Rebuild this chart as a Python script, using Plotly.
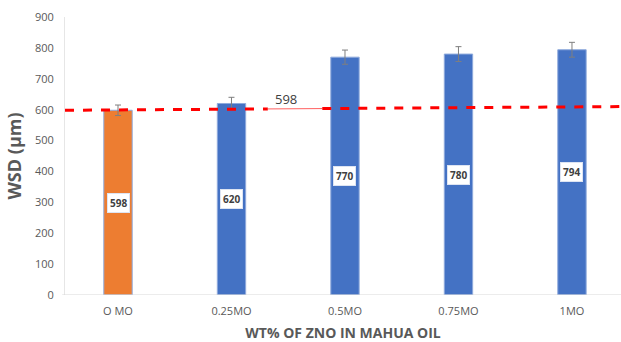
import plotly.graph_objects as go

categories = ["O MO", "0.25MO", "0.5MO", "0.75MO", "1MO"]
wsd = [598, 620, 770, 780, 794]
wsd_err = [17, 20, 23, 24, 24]
bar_colors = ["#ED7D31", "#4472C4", "#4472C4", "#4472C4", "#4472C4"]
ref_value = 598
ref_line_y = [598, 610]
y_ticks = [0, 100, 200, 300, 400, 500, 600, 700, 800, 900]

FONT = "Open Sans"
GREY = "#595959"

fig = go.Figure()
xs = list(range(len(categories)))
fig.add_trace(go.Bar(
    x=xs, y=wsd, width=0.25,
    marker=dict(color=bar_colors, line=dict(color="#8FAADC", width=1)),
    error_y=dict(type="data", array=wsd_err, color="#7F7F7F", thickness=1, width=3),
    showlegend=False, hoverinfo="skip",
))

# data labels
for i, v in enumerate(wsd):
    fig.add_annotation(x=i, y=v / 2, text=f"<b>{v}</b>", showarrow=False,
                       font=dict(family=FONT, size=10, color="#404040"),
                       bgcolor="white", bordercolor="#DDE4F2", borderwidth=1, borderpad=2)

x0, x1 = -0.467, 4.432
xl, xr = 1.32, 1.8
def yat(x):
    return ref_line_y[0] + (ref_line_y[1] - ref_line_y[0]) * (x - x0) / (x1 - x0)

fig.add_shape(type="line", x0=x0, x1=xl, y0=yat(x0), y1=yat(xl),
              line=dict(color="#FF0000", width=3, dash="dash"))
fig.add_shape(type="line", x0=xl, x1=xr, y0=yat(xl), y1=yat(xr),
              line=dict(color="#FF6060", width=1))
fig.add_shape(type="line", x0=xr, x1=x1, y0=yat(xr), y1=yat(x1),
              line=dict(color="#FF0000", width=3, dash="dash"))
fig.add_annotation(x=1.48, y=yat(1.48), yshift=10, text=str(ref_value), showarrow=False,
                   font=dict(family=FONT, size=13, color="#404040"))

fig.update_layout(
    width=621, height=342,
    margin=dict(l=65, r=0, t=17, b=47),
    paper_bgcolor="white", plot_bgcolor="white",
    font=dict(family=FONT, color=GREY),
    xaxis=dict(
        range=[x0, x1], tickmode="array", tickvals=xs, ticktext=categories,
        tickfont=dict(size=11, color=GREY), showgrid=False, zeroline=False,
        showline=False, ticks="", ticklabelstandoff=8,
        title=dict(text="<b>WT% OF ZNO IN MAHUA OIL</b>", font=dict(size=14, color=GREY), standoff=13),
    ),
    yaxis=dict(
        range=[0, 900], tickvals=y_ticks, tickfont=dict(size=11, color=GREY),
        showgrid=False, zeroline=False, showline=True, linecolor="#E6E6E6", linewidth=1,
        ticks="", ticklabelstandoff=8,
        title=dict(text="<b>WSD (µm)</b>", font=dict(size=18, color=GREY), standoff=8),
    ),
)
fig.add_shape(type="line", xref="paper", yref="y", x0=-0.005, x1=1, y0=0, y1=0,
              line=dict(color="#D9D9D9", width=1))

fig.write_html("out.html")
